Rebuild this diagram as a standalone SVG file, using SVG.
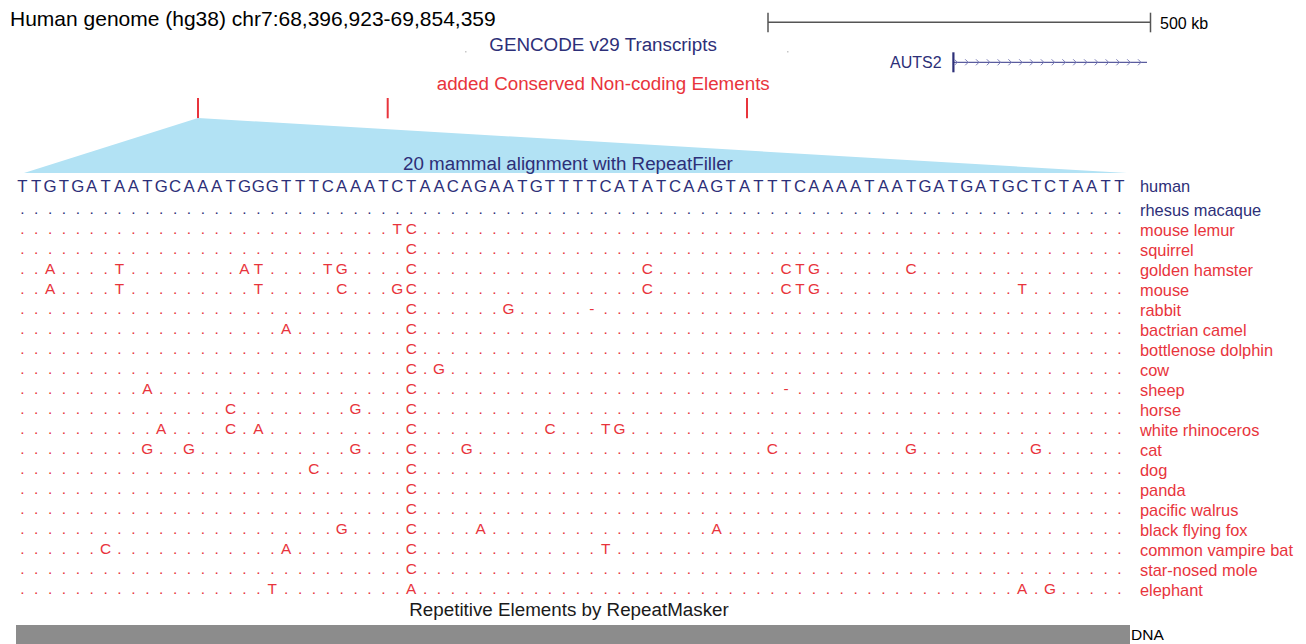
<svg xmlns="http://www.w3.org/2000/svg" width="1306" height="644" viewBox="0 0 1306 644">
<style>
text{font-family:"Liberation Sans",Arial,Helvetica,sans-serif}
.title{font-size:21px;fill:#000}
.trk{font-size:18.8px}
.seq{font-size:15.4px;text-anchor:middle}
.hseq{font-size:16.8px;text-anchor:middle}
.lbl{font-size:16.4px;transform:translateY(1px)}
.red{fill:#e8343c}
.navy{fill:#2d2f78}
.blk{fill:#1a1a1a}
.tick{stroke:#e8343c;stroke-width:2}
</style>
<rect width="1306" height="644" fill="#fff"/>
<g id="header">
<text class="title" x="10" y="26">Human genome (hg38) chr7:68,396,923-69,854,359</text>
<g id="scalebar" stroke="#555" stroke-width="1.5" fill="none">
<line x1="768" y1="22.3" x2="1150.5" y2="22.3"/>
<line x1="768" y1="12.7" x2="768" y2="32.3"/>
<line x1="1150.5" y1="12.7" x2="1150.5" y2="32.3"/>
</g>
<text x="1160" y="28.5" font-size="16" fill="#000">500 kb</text>
</g>
<g id="gencode-track">
<text class="trk navy" x="489.3" y="51">GENCODE v29 Transcripts</text>
<rect x="465" y="51" width="1.5" height="1.5" fill="#c8c8c8"/>
<rect x="787" y="51" width="1.5" height="1.5" fill="#c8c8c8"/>
<g id="gene-AUTS2">
<text class="navy" x="890" y="68.3" font-size="16">AUTS2</text>
<line x1="953" y1="62.3" x2="1147" y2="62.3" stroke="#5a5c9e" stroke-width="1.3"/>
<rect x="952.3" y="52.3" width="2.2" height="20" fill="#2d2f78"/>
<path fill="none" stroke="#7a7cb8" stroke-width="1" d="M954.4,59.3l3,3l-3,3 M965.2,59.3l3,3l-3,3 M976,59.3l3,3l-3,3 M986.8,59.3l3,3l-3,3 M997.6,59.3l3,3l-3,3 M1008.4,59.3l3,3l-3,3 M1019.2,59.3l3,3l-3,3 M1030,59.3l3,3l-3,3 M1040.8,59.3l3,3l-3,3 M1051.6,59.3l3,3l-3,3 M1062.4,59.3l3,3l-3,3 M1073.2,59.3l3,3l-3,3 M1084,59.3l3,3l-3,3 M1094.8,59.3l3,3l-3,3 M1105.6,59.3l3,3l-3,3 M1116.4,59.3l3,3l-3,3 M1127.2,59.3l3,3l-3,3 M1138,59.3l3,3l-3,3"/>
</g>
</g>
<g id="cne-track">
<text class="trk red" x="436.7" y="90">added Conserved Non-coding Elements</text>
<line class="tick" x1="198" y1="98" x2="198" y2="118.3"/>
<line class="tick" x1="387.7" y1="98" x2="387.7" y2="118.3"/>
<line class="tick" x1="747" y1="98" x2="747" y2="118.3"/>
</g>
<g id="connectors">
<polygon points="198,118 24,173 1127,173" fill="#b2e2f4"/>
</g>
<text class="trk navy" x="403" y="170">20 mammal alignment with RepeatFiller</text>
<g id="alignment">
<g id="row-human">
<text class="hseq navy" y="192"><tspan x="22.3 36.2 50.1 64 77.9 91.7 105.6 119.5 133.4 147.3">TTGTGATAAT</tspan><tspan x="161.2 175.1 189 202.8 216.7 230.6 244.5 258.4 272.3 286.2">GCAAATGGGT</tspan><tspan x="300.1 313.9 327.8 341.7 355.6 369.5 383.4 397.3 411.2 425.1">TTCAAATCTA</tspan><tspan x="439 452.8 466.7 480.6 494.5 508.4 522.3 536.2 550 563.9">ACAGAATGTT</tspan><tspan x="577.8 591.7 605.6 619.5 633.4 647.3 661.1 675 688.9 702.8">TTCATATCAA</tspan><tspan x="716.7 730.6 744.5 758.4 772.3 786.1 800 813.9 827.8 841.7">GTATTTCAAA</tspan><tspan x="855.6 869.5 883.4 897.2 911.1 925 938.9 952.8 966.7 980.6">ATAATGATGA</tspan><tspan x="994.5 1008.3 1022.2 1036.1 1050 1063.9 1077.8 1091.7 1105.6 1119.4">TGCTCTAATT</tspan></text>
<text class="lbl navy" x="1140" y="191">human</text>
</g>
<g id="row-rhesus-macaque">
<text class="seq navy" y="213.5"><tspan x="22.3 36.2 50.1 64 77.9 91.7 105.6 119.5 133.4 147.3">..........</tspan><tspan x="161.2 175.1 189 202.8 216.7 230.6 244.5 258.4 272.3 286.2">..........</tspan><tspan x="300.1 313.9 327.8 341.7 355.6 369.5 383.4 397.3 411.2 425.1">..........</tspan><tspan x="439 452.8 466.7 480.6 494.5 508.4 522.3 536.2 550 563.9">..........</tspan><tspan x="577.8 591.7 605.6 619.5 633.4 647.3 661.1 675 688.9 702.8">..........</tspan><tspan x="716.7 730.6 744.5 758.4 772.3 786.1 800 813.9 827.8 841.7">..........</tspan><tspan x="855.6 869.5 883.4 897.2 911.1 925 938.9 952.8 966.7 980.6">..........</tspan><tspan x="994.5 1008.3 1022.2 1036.1 1050 1063.9 1077.8 1091.7 1105.6 1119.4">..........</tspan></text>
<text class="lbl navy" x="1140" y="214.5">rhesus macaque</text>
</g>
<g id="row-mouse-lemur">
<text class="seq red" y="233.55"><tspan x="22.3 36.2 50.1 64 77.9 91.7 105.6 119.5 133.4 147.3">..........</tspan><tspan x="161.2 175.1 189 202.8 216.7 230.6 244.5 258.4 272.3 286.2">..........</tspan><tspan x="300.1 313.9 327.8 341.7 355.6 369.5 383.4 397.3 411.2 425.1">.......TC.</tspan><tspan x="439 452.8 466.7 480.6 494.5 508.4 522.3 536.2 550 563.9">..........</tspan><tspan x="577.8 591.7 605.6 619.5 633.4 647.3 661.1 675 688.9 702.8">..........</tspan><tspan x="716.7 730.6 744.5 758.4 772.3 786.1 800 813.9 827.8 841.7">..........</tspan><tspan x="855.6 869.5 883.4 897.2 911.1 925 938.9 952.8 966.7 980.6">..........</tspan><tspan x="994.5 1008.3 1022.2 1036.1 1050 1063.9 1077.8 1091.7 1105.6 1119.4">..........</tspan></text>
<text class="lbl red" x="1140" y="234.55">mouse lemur</text>
</g>
<g id="row-squirrel">
<text class="seq red" y="253.6"><tspan x="22.3 36.2 50.1 64 77.9 91.7 105.6 119.5 133.4 147.3">..........</tspan><tspan x="161.2 175.1 189 202.8 216.7 230.6 244.5 258.4 272.3 286.2">..........</tspan><tspan x="300.1 313.9 327.8 341.7 355.6 369.5 383.4 397.3 411.2 425.1">........C.</tspan><tspan x="439 452.8 466.7 480.6 494.5 508.4 522.3 536.2 550 563.9">..........</tspan><tspan x="577.8 591.7 605.6 619.5 633.4 647.3 661.1 675 688.9 702.8">..........</tspan><tspan x="716.7 730.6 744.5 758.4 772.3 786.1 800 813.9 827.8 841.7">..........</tspan><tspan x="855.6 869.5 883.4 897.2 911.1 925 938.9 952.8 966.7 980.6">..........</tspan><tspan x="994.5 1008.3 1022.2 1036.1 1050 1063.9 1077.8 1091.7 1105.6 1119.4">..........</tspan></text>
<text class="lbl red" x="1140" y="254.6">squirrel</text>
</g>
<g id="row-golden-hamster">
<text class="seq red" y="273.65"><tspan x="22.3 36.2 50.1 64 77.9 91.7 105.6 119.5 133.4 147.3">..A....T..</tspan><tspan x="161.2 175.1 189 202.8 216.7 230.6 244.5 258.4 272.3 286.2">......AT..</tspan><tspan x="300.1 313.9 327.8 341.7 355.6 369.5 383.4 397.3 411.2 425.1">..TG....C.</tspan><tspan x="439 452.8 466.7 480.6 494.5 508.4 522.3 536.2 550 563.9">..........</tspan><tspan x="577.8 591.7 605.6 619.5 633.4 647.3 661.1 675 688.9 702.8">.....C....</tspan><tspan x="716.7 730.6 744.5 758.4 772.3 786.1 800 813.9 827.8 841.7">.....CTG..</tspan><tspan x="855.6 869.5 883.4 897.2 911.1 925 938.9 952.8 966.7 980.6">....C.....</tspan><tspan x="994.5 1008.3 1022.2 1036.1 1050 1063.9 1077.8 1091.7 1105.6 1119.4">..........</tspan></text>
<text class="lbl red" x="1140" y="274.65">golden hamster</text>
</g>
<g id="row-mouse">
<text class="seq red" y="293.7"><tspan x="22.3 36.2 50.1 64 77.9 91.7 105.6 119.5 133.4 147.3">..A....T..</tspan><tspan x="161.2 175.1 189 202.8 216.7 230.6 244.5 258.4 272.3 286.2">.......T..</tspan><tspan x="300.1 313.9 327.8 341.7 355.6 369.5 383.4 397.3 411.2 425.1">...C...GC.</tspan><tspan x="439 452.8 466.7 480.6 494.5 508.4 522.3 536.2 550 563.9">..........</tspan><tspan x="577.8 591.7 605.6 619.5 633.4 647.3 661.1 675 688.9 702.8">.....C....</tspan><tspan x="716.7 730.6 744.5 758.4 772.3 786.1 800 813.9 827.8 841.7">.....CTG..</tspan><tspan x="855.6 869.5 883.4 897.2 911.1 925 938.9 952.8 966.7 980.6">..........</tspan><tspan x="994.5 1008.3 1022.2 1036.1 1050 1063.9 1077.8 1091.7 1105.6 1119.4">..T.......</tspan></text>
<text class="lbl red" x="1140" y="294.7">mouse</text>
</g>
<g id="row-rabbit">
<text class="seq red" y="313.75"><tspan x="22.3 36.2 50.1 64 77.9 91.7 105.6 119.5 133.4 147.3">..........</tspan><tspan x="161.2 175.1 189 202.8 216.7 230.6 244.5 258.4 272.3 286.2">..........</tspan><tspan x="300.1 313.9 327.8 341.7 355.6 369.5 383.4 397.3 411.2 425.1">........C.</tspan><tspan x="439 452.8 466.7 480.6 494.5 508.4 522.3 536.2 550 563.9">.....G....</tspan><tspan x="577.8 591.7 605.6 619.5 633.4 647.3 661.1 675 688.9 702.8">.-........</tspan><tspan x="716.7 730.6 744.5 758.4 772.3 786.1 800 813.9 827.8 841.7">..........</tspan><tspan x="855.6 869.5 883.4 897.2 911.1 925 938.9 952.8 966.7 980.6">..........</tspan><tspan x="994.5 1008.3 1022.2 1036.1 1050 1063.9 1077.8 1091.7 1105.6 1119.4">..........</tspan></text>
<text class="lbl red" x="1140" y="314.75">rabbit</text>
</g>
<g id="row-bactrian-camel">
<text class="seq red" y="333.8"><tspan x="22.3 36.2 50.1 64 77.9 91.7 105.6 119.5 133.4 147.3">..........</tspan><tspan x="161.2 175.1 189 202.8 216.7 230.6 244.5 258.4 272.3 286.2">.........A</tspan><tspan x="300.1 313.9 327.8 341.7 355.6 369.5 383.4 397.3 411.2 425.1">........C.</tspan><tspan x="439 452.8 466.7 480.6 494.5 508.4 522.3 536.2 550 563.9">..........</tspan><tspan x="577.8 591.7 605.6 619.5 633.4 647.3 661.1 675 688.9 702.8">..........</tspan><tspan x="716.7 730.6 744.5 758.4 772.3 786.1 800 813.9 827.8 841.7">..........</tspan><tspan x="855.6 869.5 883.4 897.2 911.1 925 938.9 952.8 966.7 980.6">..........</tspan><tspan x="994.5 1008.3 1022.2 1036.1 1050 1063.9 1077.8 1091.7 1105.6 1119.4">..........</tspan></text>
<text class="lbl red" x="1140" y="334.8">bactrian camel</text>
</g>
<g id="row-bottlenose-dolphin">
<text class="seq red" y="353.85"><tspan x="22.3 36.2 50.1 64 77.9 91.7 105.6 119.5 133.4 147.3">..........</tspan><tspan x="161.2 175.1 189 202.8 216.7 230.6 244.5 258.4 272.3 286.2">..........</tspan><tspan x="300.1 313.9 327.8 341.7 355.6 369.5 383.4 397.3 411.2 425.1">........C.</tspan><tspan x="439 452.8 466.7 480.6 494.5 508.4 522.3 536.2 550 563.9">..........</tspan><tspan x="577.8 591.7 605.6 619.5 633.4 647.3 661.1 675 688.9 702.8">..........</tspan><tspan x="716.7 730.6 744.5 758.4 772.3 786.1 800 813.9 827.8 841.7">..........</tspan><tspan x="855.6 869.5 883.4 897.2 911.1 925 938.9 952.8 966.7 980.6">..........</tspan><tspan x="994.5 1008.3 1022.2 1036.1 1050 1063.9 1077.8 1091.7 1105.6 1119.4">..........</tspan></text>
<text class="lbl red" x="1140" y="354.85">bottlenose dolphin</text>
</g>
<g id="row-cow">
<text class="seq red" y="373.9"><tspan x="22.3 36.2 50.1 64 77.9 91.7 105.6 119.5 133.4 147.3">..........</tspan><tspan x="161.2 175.1 189 202.8 216.7 230.6 244.5 258.4 272.3 286.2">..........</tspan><tspan x="300.1 313.9 327.8 341.7 355.6 369.5 383.4 397.3 411.2 425.1">........C.</tspan><tspan x="439 452.8 466.7 480.6 494.5 508.4 522.3 536.2 550 563.9">G.........</tspan><tspan x="577.8 591.7 605.6 619.5 633.4 647.3 661.1 675 688.9 702.8">..........</tspan><tspan x="716.7 730.6 744.5 758.4 772.3 786.1 800 813.9 827.8 841.7">..........</tspan><tspan x="855.6 869.5 883.4 897.2 911.1 925 938.9 952.8 966.7 980.6">..........</tspan><tspan x="994.5 1008.3 1022.2 1036.1 1050 1063.9 1077.8 1091.7 1105.6 1119.4">..........</tspan></text>
<text class="lbl red" x="1140" y="374.9">cow</text>
</g>
<g id="row-sheep">
<text class="seq red" y="393.95"><tspan x="22.3 36.2 50.1 64 77.9 91.7 105.6 119.5 133.4 147.3">.........A</tspan><tspan x="161.2 175.1 189 202.8 216.7 230.6 244.5 258.4 272.3 286.2">..........</tspan><tspan x="300.1 313.9 327.8 341.7 355.6 369.5 383.4 397.3 411.2 425.1">........C.</tspan><tspan x="439 452.8 466.7 480.6 494.5 508.4 522.3 536.2 550 563.9">..........</tspan><tspan x="577.8 591.7 605.6 619.5 633.4 647.3 661.1 675 688.9 702.8">..........</tspan><tspan x="716.7 730.6 744.5 758.4 772.3 786.1 800 813.9 827.8 841.7">.....-....</tspan><tspan x="855.6 869.5 883.4 897.2 911.1 925 938.9 952.8 966.7 980.6">..........</tspan><tspan x="994.5 1008.3 1022.2 1036.1 1050 1063.9 1077.8 1091.7 1105.6 1119.4">..........</tspan></text>
<text class="lbl red" x="1140" y="394.95">sheep</text>
</g>
<g id="row-horse">
<text class="seq red" y="414"><tspan x="22.3 36.2 50.1 64 77.9 91.7 105.6 119.5 133.4 147.3">..........</tspan><tspan x="161.2 175.1 189 202.8 216.7 230.6 244.5 258.4 272.3 286.2">.....C....</tspan><tspan x="300.1 313.9 327.8 341.7 355.6 369.5 383.4 397.3 411.2 425.1">....G...C.</tspan><tspan x="439 452.8 466.7 480.6 494.5 508.4 522.3 536.2 550 563.9">..........</tspan><tspan x="577.8 591.7 605.6 619.5 633.4 647.3 661.1 675 688.9 702.8">..........</tspan><tspan x="716.7 730.6 744.5 758.4 772.3 786.1 800 813.9 827.8 841.7">..........</tspan><tspan x="855.6 869.5 883.4 897.2 911.1 925 938.9 952.8 966.7 980.6">..........</tspan><tspan x="994.5 1008.3 1022.2 1036.1 1050 1063.9 1077.8 1091.7 1105.6 1119.4">..........</tspan></text>
<text class="lbl red" x="1140" y="415">horse</text>
</g>
<g id="row-white-rhinoceros">
<text class="seq red" y="434.05"><tspan x="22.3 36.2 50.1 64 77.9 91.7 105.6 119.5 133.4 147.3">..........</tspan><tspan x="161.2 175.1 189 202.8 216.7 230.6 244.5 258.4 272.3 286.2">A....C.A..</tspan><tspan x="300.1 313.9 327.8 341.7 355.6 369.5 383.4 397.3 411.2 425.1">........C.</tspan><tspan x="439 452.8 466.7 480.6 494.5 508.4 522.3 536.2 550 563.9">........C.</tspan><tspan x="577.8 591.7 605.6 619.5 633.4 647.3 661.1 675 688.9 702.8">..TG......</tspan><tspan x="716.7 730.6 744.5 758.4 772.3 786.1 800 813.9 827.8 841.7">..........</tspan><tspan x="855.6 869.5 883.4 897.2 911.1 925 938.9 952.8 966.7 980.6">..........</tspan><tspan x="994.5 1008.3 1022.2 1036.1 1050 1063.9 1077.8 1091.7 1105.6 1119.4">..........</tspan></text>
<text class="lbl red" x="1140" y="435.05">white rhinoceros</text>
</g>
<g id="row-cat">
<text class="seq red" y="454.1"><tspan x="22.3 36.2 50.1 64 77.9 91.7 105.6 119.5 133.4 147.3">.........G</tspan><tspan x="161.2 175.1 189 202.8 216.7 230.6 244.5 258.4 272.3 286.2">..G.......</tspan><tspan x="300.1 313.9 327.8 341.7 355.6 369.5 383.4 397.3 411.2 425.1">....G...C.</tspan><tspan x="439 452.8 466.7 480.6 494.5 508.4 522.3 536.2 550 563.9">..G.......</tspan><tspan x="577.8 591.7 605.6 619.5 633.4 647.3 661.1 675 688.9 702.8">..........</tspan><tspan x="716.7 730.6 744.5 758.4 772.3 786.1 800 813.9 827.8 841.7">....C.....</tspan><tspan x="855.6 869.5 883.4 897.2 911.1 925 938.9 952.8 966.7 980.6">....G.....</tspan><tspan x="994.5 1008.3 1022.2 1036.1 1050 1063.9 1077.8 1091.7 1105.6 1119.4">...G......</tspan></text>
<text class="lbl red" x="1140" y="455.1">cat</text>
</g>
<g id="row-dog">
<text class="seq red" y="474.15"><tspan x="22.3 36.2 50.1 64 77.9 91.7 105.6 119.5 133.4 147.3">..........</tspan><tspan x="161.2 175.1 189 202.8 216.7 230.6 244.5 258.4 272.3 286.2">..........</tspan><tspan x="300.1 313.9 327.8 341.7 355.6 369.5 383.4 397.3 411.2 425.1">.C......C.</tspan><tspan x="439 452.8 466.7 480.6 494.5 508.4 522.3 536.2 550 563.9">..........</tspan><tspan x="577.8 591.7 605.6 619.5 633.4 647.3 661.1 675 688.9 702.8">..........</tspan><tspan x="716.7 730.6 744.5 758.4 772.3 786.1 800 813.9 827.8 841.7">..........</tspan><tspan x="855.6 869.5 883.4 897.2 911.1 925 938.9 952.8 966.7 980.6">..........</tspan><tspan x="994.5 1008.3 1022.2 1036.1 1050 1063.9 1077.8 1091.7 1105.6 1119.4">..........</tspan></text>
<text class="lbl red" x="1140" y="475.15">dog</text>
</g>
<g id="row-panda">
<text class="seq red" y="494.2"><tspan x="22.3 36.2 50.1 64 77.9 91.7 105.6 119.5 133.4 147.3">..........</tspan><tspan x="161.2 175.1 189 202.8 216.7 230.6 244.5 258.4 272.3 286.2">..........</tspan><tspan x="300.1 313.9 327.8 341.7 355.6 369.5 383.4 397.3 411.2 425.1">........C.</tspan><tspan x="439 452.8 466.7 480.6 494.5 508.4 522.3 536.2 550 563.9">..........</tspan><tspan x="577.8 591.7 605.6 619.5 633.4 647.3 661.1 675 688.9 702.8">..........</tspan><tspan x="716.7 730.6 744.5 758.4 772.3 786.1 800 813.9 827.8 841.7">..........</tspan><tspan x="855.6 869.5 883.4 897.2 911.1 925 938.9 952.8 966.7 980.6">..........</tspan><tspan x="994.5 1008.3 1022.2 1036.1 1050 1063.9 1077.8 1091.7 1105.6 1119.4">..........</tspan></text>
<text class="lbl red" x="1140" y="495.2">panda</text>
</g>
<g id="row-pacific-walrus">
<text class="seq red" y="514.25"><tspan x="22.3 36.2 50.1 64 77.9 91.7 105.6 119.5 133.4 147.3">..........</tspan><tspan x="161.2 175.1 189 202.8 216.7 230.6 244.5 258.4 272.3 286.2">..........</tspan><tspan x="300.1 313.9 327.8 341.7 355.6 369.5 383.4 397.3 411.2 425.1">........C.</tspan><tspan x="439 452.8 466.7 480.6 494.5 508.4 522.3 536.2 550 563.9">..........</tspan><tspan x="577.8 591.7 605.6 619.5 633.4 647.3 661.1 675 688.9 702.8">..........</tspan><tspan x="716.7 730.6 744.5 758.4 772.3 786.1 800 813.9 827.8 841.7">..........</tspan><tspan x="855.6 869.5 883.4 897.2 911.1 925 938.9 952.8 966.7 980.6">..........</tspan><tspan x="994.5 1008.3 1022.2 1036.1 1050 1063.9 1077.8 1091.7 1105.6 1119.4">..........</tspan></text>
<text class="lbl red" x="1140" y="515.25">pacific walrus</text>
</g>
<g id="row-black-flying-fox">
<text class="seq red" y="534.3"><tspan x="22.3 36.2 50.1 64 77.9 91.7 105.6 119.5 133.4 147.3">..........</tspan><tspan x="161.2 175.1 189 202.8 216.7 230.6 244.5 258.4 272.3 286.2">..........</tspan><tspan x="300.1 313.9 327.8 341.7 355.6 369.5 383.4 397.3 411.2 425.1">...G....C.</tspan><tspan x="439 452.8 466.7 480.6 494.5 508.4 522.3 536.2 550 563.9">...A......</tspan><tspan x="577.8 591.7 605.6 619.5 633.4 647.3 661.1 675 688.9 702.8">..........</tspan><tspan x="716.7 730.6 744.5 758.4 772.3 786.1 800 813.9 827.8 841.7">A.........</tspan><tspan x="855.6 869.5 883.4 897.2 911.1 925 938.9 952.8 966.7 980.6">..........</tspan><tspan x="994.5 1008.3 1022.2 1036.1 1050 1063.9 1077.8 1091.7 1105.6 1119.4">..........</tspan></text>
<text class="lbl red" x="1140" y="535.3">black flying fox</text>
</g>
<g id="row-common-vampire-bat">
<text class="seq red" y="554.35"><tspan x="22.3 36.2 50.1 64 77.9 91.7 105.6 119.5 133.4 147.3">......C...</tspan><tspan x="161.2 175.1 189 202.8 216.7 230.6 244.5 258.4 272.3 286.2">.........A</tspan><tspan x="300.1 313.9 327.8 341.7 355.6 369.5 383.4 397.3 411.2 425.1">........C.</tspan><tspan x="439 452.8 466.7 480.6 494.5 508.4 522.3 536.2 550 563.9">..........</tspan><tspan x="577.8 591.7 605.6 619.5 633.4 647.3 661.1 675 688.9 702.8">..T.......</tspan><tspan x="716.7 730.6 744.5 758.4 772.3 786.1 800 813.9 827.8 841.7">..........</tspan><tspan x="855.6 869.5 883.4 897.2 911.1 925 938.9 952.8 966.7 980.6">..........</tspan><tspan x="994.5 1008.3 1022.2 1036.1 1050 1063.9 1077.8 1091.7 1105.6 1119.4">..........</tspan></text>
<text class="lbl red" x="1140" y="555.35">common vampire bat</text>
</g>
<g id="row-star-nosed-mole">
<text class="seq red" y="574.4"><tspan x="22.3 36.2 50.1 64 77.9 91.7 105.6 119.5 133.4 147.3">..........</tspan><tspan x="161.2 175.1 189 202.8 216.7 230.6 244.5 258.4 272.3 286.2">..........</tspan><tspan x="300.1 313.9 327.8 341.7 355.6 369.5 383.4 397.3 411.2 425.1">........C.</tspan><tspan x="439 452.8 466.7 480.6 494.5 508.4 522.3 536.2 550 563.9">..........</tspan><tspan x="577.8 591.7 605.6 619.5 633.4 647.3 661.1 675 688.9 702.8">..........</tspan><tspan x="716.7 730.6 744.5 758.4 772.3 786.1 800 813.9 827.8 841.7">..........</tspan><tspan x="855.6 869.5 883.4 897.2 911.1 925 938.9 952.8 966.7 980.6">..........</tspan><tspan x="994.5 1008.3 1022.2 1036.1 1050 1063.9 1077.8 1091.7 1105.6 1119.4">..........</tspan></text>
<text class="lbl red" x="1140" y="575.4">star-nosed mole</text>
</g>
<g id="row-elephant">
<text class="seq red" y="594.45"><tspan x="22.3 36.2 50.1 64 77.9 91.7 105.6 119.5 133.4 147.3">..........</tspan><tspan x="161.2 175.1 189 202.8 216.7 230.6 244.5 258.4 272.3 286.2">........T.</tspan><tspan x="300.1 313.9 327.8 341.7 355.6 369.5 383.4 397.3 411.2 425.1">........A.</tspan><tspan x="439 452.8 466.7 480.6 494.5 508.4 522.3 536.2 550 563.9">..........</tspan><tspan x="577.8 591.7 605.6 619.5 633.4 647.3 661.1 675 688.9 702.8">..........</tspan><tspan x="716.7 730.6 744.5 758.4 772.3 786.1 800 813.9 827.8 841.7">..........</tspan><tspan x="855.6 869.5 883.4 897.2 911.1 925 938.9 952.8 966.7 980.6">..........</tspan><tspan x="994.5 1008.3 1022.2 1036.1 1050 1063.9 1077.8 1091.7 1105.6 1119.4">..A.G.....</tspan></text>
<text class="lbl red" x="1140" y="595.45">elephant</text>
</g>
</g>
<g id="repeatmasker-track">
<text class="trk blk" x="409.3" y="616">Repetitive Elements by RepeatMasker</text>
<rect x="16" y="625" width="1114" height="19" fill="#8c8c8c"/>
<text x="1131" y="640" font-size="15.5" fill="#000">DNA</text>
</g>
</svg>
